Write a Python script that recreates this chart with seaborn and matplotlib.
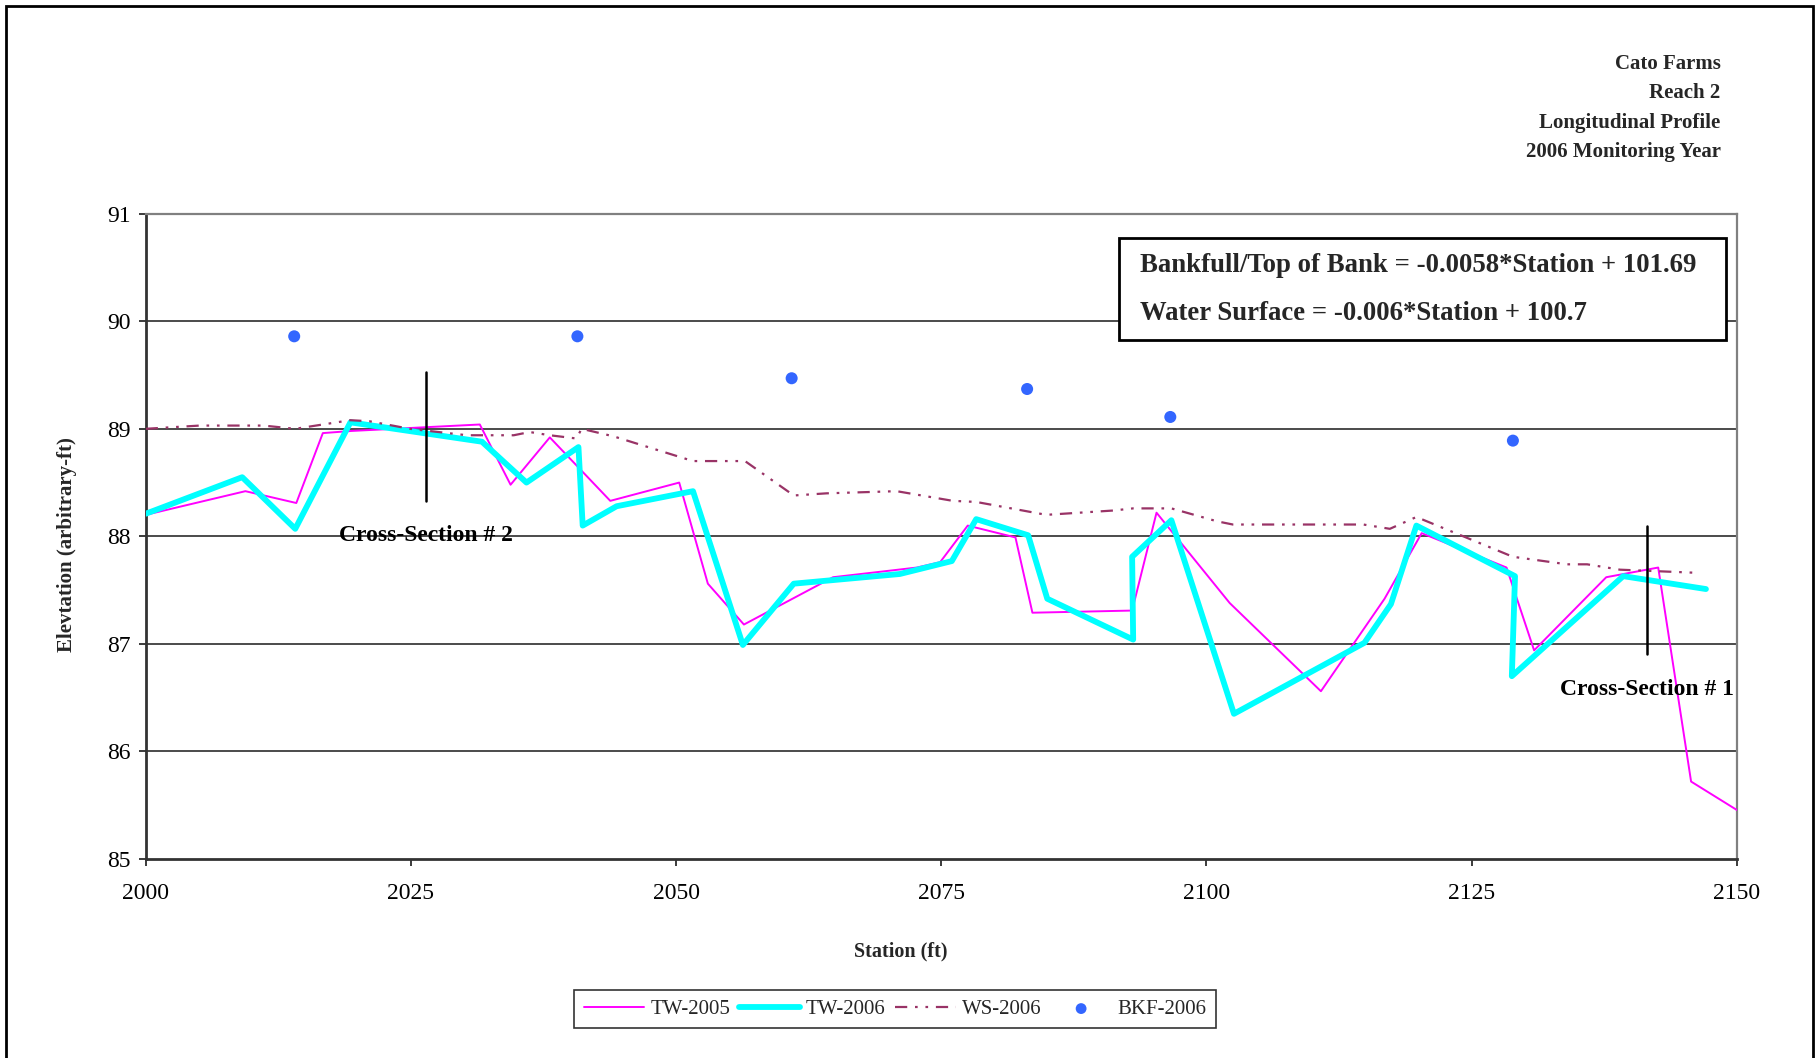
import matplotlib
matplotlib.use("Agg")
import matplotlib.pyplot as plt
from matplotlib.patches import Rectangle
import seaborn as sns
import pandas as pd

# ---- survey data -------------------------------------------------------
tw2005_station = [2000.0, 2009.4, 2014.2, 2016.7, 2019.4, 2031.5, 2034.4, 2038.1,
                  2043.8, 2050.3, 2053.0, 2056.4, 2064.8, 2072.7, 2074.9, 2077.5,
                  2082.0, 2083.6, 2093.0, 2095.3, 2102.2, 2110.8, 2116.8, 2120.3,
                  2128.3, 2130.9, 2137.7, 2142.6, 2145.7, 2150.6]
tw2005_elev = [88.20, 88.42, 88.31, 88.96, 88.98, 89.04, 88.48, 88.92,
               88.33, 88.50, 87.56, 87.18, 87.62, 87.71, 87.76, 88.10,
               87.99, 87.29, 87.31, 88.22, 87.38, 86.56, 87.42, 88.03,
               87.71, 86.94, 87.62, 87.71, 85.72, 85.42]

tw2006_station = [2000.0, 2009.1, 2014.1, 2019.3, 2031.7, 2035.9, 2040.8, 2041.2,
                  2044.4, 2051.6, 2056.3, 2061.1, 2071.1, 2076.0, 2078.3, 2083.2,
                  2085.0, 2093.1, 2093.0, 2096.7, 2102.6, 2114.9, 2117.4, 2119.8,
                  2129.1, 2128.8, 2139.3, 2147.1]
tw2006_elev = [88.21, 88.55, 88.07, 89.06, 88.88, 88.50, 88.83, 88.10,
               88.28, 88.42, 86.99, 87.56, 87.65, 87.77, 88.16, 88.01,
               87.42, 87.04, 87.81, 88.15, 86.35, 87.01, 87.37, 88.10,
               87.63, 86.70, 87.63, 87.51]

ws2006_station = [2000.0, 2005.1, 2011.1, 2014.1, 2019.3, 2021.1, 2024.9, 2030.3,
                  2034.7, 2036.2, 2038.1, 2040.6, 2041.1, 2044.1, 2051.6, 2056.5,
                  2061.1, 2064.2, 2070.8, 2076.1, 2078.3, 2084.9, 2091.2, 2093.1,
                  2096.7, 2101.0, 2102.5, 2114.8, 2117.3, 2119.8, 2128.9, 2134.0,
                  2135.9, 2139.0, 2141.5, 2146.5]
ws2006_elev = [89.00, 89.03, 89.03, 89.00, 89.08, 89.07, 89.00, 88.94,
               88.94, 88.97, 88.94, 88.91, 89.00, 88.93, 88.70, 88.70,
               88.38, 88.40, 88.42, 88.33, 88.32, 88.20, 88.24, 88.26,
               88.26, 88.14, 88.11, 88.11, 88.07, 88.18, 87.81, 87.74,
               87.74, 87.69, 87.68, 87.66]

bkf2006_station = [2014.0, 2040.7, 2060.9, 2083.1, 2096.6, 2128.9]
bkf2006_elev = [89.86, 89.86, 89.47, 89.37, 89.11, 88.89]

xsec_station = [2026.4, 2141.5]
xsec_bottom = [88.33, 86.91]
xsec_top = [89.53, 88.10]
xsec_labels = ["Cross-Section # 2", "Cross-Section # 1"]
xsec_label_y = [88.01, 86.58]

x_ticks = [2000, 2025, 2050, 2075, 2100, 2125, 2150]
y_ticks = [85, 86, 87, 88, 89, 90, 91]

title_lines = ["Cato Farms", "Reach 2", "Longitudinal Profile", "2006 Monitoring Year"]
equations = ["Bankfull/Top of Bank = -0.0058*Station + 101.69",
             "Water Surface = -0.006*Station + 100.7"]

# ---- style --------------------------------------------------------------
sns.set_style("white")
plt.rcParams["font.family"] = ["Liberation Serif", "DejaVu Serif"]

W, H = 1818, 1058
fig = plt.figure(figsize=(W / 100, H / 100), dpi=100)
fig.patch.set_facecolor("white")

def fx(px):
    return px / W

def fy(py):
    return 1 - py / H

left, right, top, bottom = 145.7, 1736.7, 213.7, 859.0
ax = fig.add_axes([fx(left), fy(bottom), fx(right) - fx(left), fy(top) - fy(bottom)])

df05 = pd.DataFrame({"Station": tw2005_station, "Elev": tw2005_elev})
df06 = pd.DataFrame({"Station": tw2006_station, "Elev": tw2006_elev})
dfws = pd.DataFrame({"Station": ws2006_station, "Elev": ws2006_elev})
dfbk = pd.DataFrame({"Station": bkf2006_station, "Elev": bkf2006_elev})

# horizontal gridlines
for yv in y_ticks[1:-1]:
    ax.axhline(yv, color="#1a1a1a", lw=1.1, zorder=0)

sns.lineplot(data=df05, x="Station", y="Elev", sort=False, estimator=None,
             color="#FF00FF", lw=1.4, ax=ax, label="TW-2005", zorder=3)
sns.lineplot(data=df06, x="Station", y="Elev", sort=False, estimator=None,
             color="#00FFFF", lw=4.2, ax=ax, label="TW-2006", zorder=4)
sns.lineplot(data=dfws, x="Station", y="Elev", sort=False, estimator=None,
             color="#993366", lw=1.6, ax=ax, label="WS-2006", zorder=5,
             linestyle=(0, (5.5, 3.5, 1.2, 3.5, 1.2, 3.5)))
sns.scatterplot(data=dfbk, x="Station", y="Elev", color="#3366FF", s=75,
                edgecolor="none", ax=ax, label="BKF-2006", zorder=6)

# cross-section markers
for xs, yb, yt, lab, ly in zip(xsec_station, xsec_bottom, xsec_top, xsec_labels, xsec_label_y):
    ax.plot([xs, xs], [yb, yt], color="black", lw=1.8, zorder=7)
    ax.text(xs, ly, lab, ha="center", va="center", fontsize=17,
            fontweight="bold", color="black", zorder=8)

ax.set_xlim(2000, 2150)
ax.set_ylim(85, 91)
ax.set_xticks(x_ticks)
ax.set_yticks(y_ticks)
ax.set_xlabel("")
ax.set_ylabel("")
ax.tick_params(axis="both", direction="out", length=5, width=1.2, colors="#1a1a1a",
               labelsize=17, labelcolor="black")
ax.tick_params(axis="x", pad=12)
ax.tick_params(axis="y", pad=6)
ax.tick_params(left=True, bottom=True)
for side in ["left", "bottom"]:
    ax.spines[side].set_color("#333333")
    ax.spines[side].set_linewidth(2.0)
for side in ["top", "right"]:
    ax.spines[side].set_color("#808080")
    ax.spines[side].set_linewidth(1.6)
ax.lines[0].set_clip_on(False)

# legend below the plot
handles, labels = ax.get_legend_handles_labels()
ax.get_legend().remove()
leg = fig.legend(handles, labels, loc="center", ncol=4,
                 bbox_to_anchor=(fx((579.7 + 1210.4) / 2), fy((987.8 + 1030.7) / 2)),
                 fontsize=15, frameon=True, fancybox=False, handlelength=2.9,
                 handletextpad=0.3, columnspacing=0.45, borderpad=0.45,
                 markerscale=0.9)
leg.get_frame().set_edgecolor("black")
leg.get_frame().set_linewidth(1.2)

# axis labels
fig.text(fx(900.5), fy(951), "Station (ft)", ha="center", va="center",
         fontsize=14.5, fontweight="bold")
fig.text(fx(66.7), fy(545), "Elevtation (arbitrary-ft)", ha="center", va="center",
         rotation=90, fontsize=15, fontweight="bold")

# title block, upper right
for i, line in enumerate(title_lines):
    fig.text(fx(1720.6), fy(64 + i * 29.4), line, ha="right", va="center",
             fontsize=15, fontweight="bold")

# regression equations box
box = Rectangle((fx(1119), fy(339.7)), fx(1726) - fx(1119), fy(237.7) - fy(339.7),
                transform=fig.transFigure, facecolor="white", edgecolor="black",
                lw=2.0, zorder=10)
fig.patches.append(box)
for i, eq in enumerate(equations):
    fig.text(fx(1139.7), fy(265.5 + i * 47.5), eq, ha="left", va="center",
             fontsize=19.3, fontweight="bold", zorder=11)

# outer chart border
border = Rectangle((fx(6), fy(1062)), fx(1813) - fx(6), fy(6) - fy(1062),
                   transform=fig.transFigure, facecolor="none", edgecolor="black",
                   lw=2.0, zorder=12, clip_on=False)
fig.patches.append(border)

fig.savefig("out.png", dpi=100)
